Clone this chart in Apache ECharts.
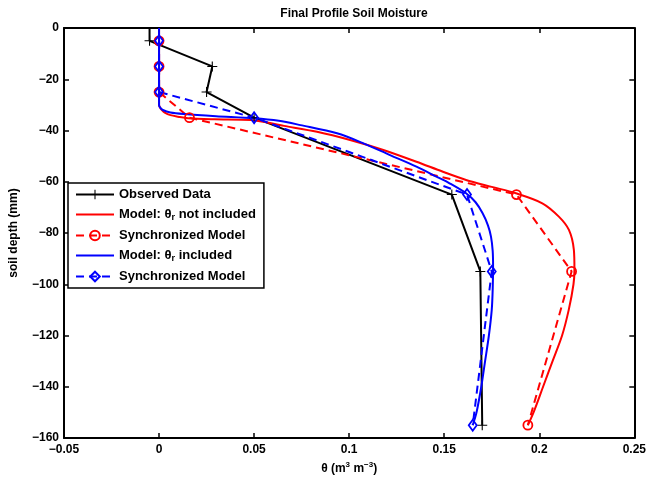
<!DOCTYPE html>
<html>
<head>
<meta charset="utf-8">
<script src="https://cdn.jsdelivr.net/npm/echarts@6/dist/echarts.min.js"></script>
<style>
  html, body { margin: 0; padding: 0; background: #fff; }
  #chart { width: 649px; height: 483px; }
</style>
</head>
<body>
<div id="chart"></div>
<script>
// Observed profile (depth in mm, moisture in m3/m3)
const obsDepth = [0, -5, -15, -25, -35, -65, -95, -155];
const obsTheta = [-0.005, -0.005, 0.028, 0.025, 0.05, 0.154, 0.169, 0.170];

// Synchronized model values at the observation depths
const syncDepth = [-5, -15, -25, -35, -65, -95, -155];
const syncThetaNoResidual = [0, 0, 0, 0.016, 0.188, 0.217, 0.194];
const syncThetaResidual = [0, 0, 0, 0.05, 0.162, 0.175, 0.165];

// Continuous model profile, residual moisture not included
const modelDepthNoResidual = [0, -10, -20, -30, -31, -32, -33, -34, -34.6, -35.2, -35.6, -35.9, -38.2, -40.5, -43.7, -47.6, -52.2, -56.1, -59.3, -62, -64.5, -68.4, -73.6, -78.8, -86.6, -94.4, -100, -110, -120, -130, -140, -150, -155];
const modelThetaNoResidual = [0, 0, 0, 0, 0.0005, 0.0015, 0.003, 0.006, 0.0100, 0.0152, 0.0291, 0.0483, 0.0657, 0.0831, 0.1005, 0.118, 0.1354, 0.1493, 0.1615, 0.175, 0.1877, 0.2016, 0.2103, 0.2156, 0.2182, 0.2185, 0.218, 0.2155, 0.212, 0.207, 0.202, 0.197, 0.194];

// Continuous model profile, residual moisture included
const modelDepthResidual = [0, -10, -20, -30, -31, -32, -33, -33.6, -34.4, -35.2, -36.2, -37.9, -41.1, -45, -49.6, -54.1, -58, -60.6, -64.5, -68, -72.3, -77, -81.4, -87, -93.2, -102, -110, -120, -130, -140, -150, -155];
const modelThetaResidual = [0, 0, 0, 0, 0.0005, 0.002, 0.006, 0.0134, 0.03, 0.05, 0.063, 0.0744, 0.0936, 0.1075, 0.1215, 0.1354, 0.1459, 0.1528, 0.1615, 0.1665, 0.1702, 0.173, 0.1746, 0.1755, 0.1757, 0.1755, 0.175, 0.1735, 0.1715, 0.1695, 0.167, 0.165];

// Axis ranges
const xMin = -0.05, xMax = 0.25, xStep = 0.05;
const yMin = -160, yMax = 0, yStep = 20;

const seriesKeys = ['obs', 'modelNoRes', 'syncNoRes', 'modelRes', 'syncRes'];
const lineOnlyKeys = ['modelNoRes', 'modelRes'];
const legendLabels = {
  obs: '{t|Observed Data}',
  modelNoRes: '{t|Model: θ}{sub|r}{t| not included}',
  syncNoRes: '{t|Synchronized Model}',
  modelRes: '{t|Model: θ}{sub|r}{t| included}',
  syncRes: '{t|Synchronized Model}'
};

const FONT = 'Liberation Sans, Arial, sans-serif';
const RED = '#ff0000';
const BLUE = '#0000ff';
const LW = 2;
const HIDDEN = 'rgba(0,0,0,0)';

function pairs(xs, ys) { return xs.map((x, i) => [x, ys[i]]); }
function minus(s) { return String(s).replace('-', '\u2212'); }

const plusPath = 'path://M-1,-0.11H1V0.11H-1Z M-0.11,-1H0.11V1H-0.11Z';

// the surface reading sits on the top frame, so it is drawn without a marker
const obsData = pairs(obsTheta, obsDepth).map(p => p[1] === 0 ? { value: p, symbol: 'none' } : p);

const chart = echarts.init(document.getElementById('chart'), null, { renderer: 'canvas' });

const axisLine = { show: true, onZero: false, lineStyle: { color: '#000', width: 2 } };
const tickStyle = { show: true, inside: true, length: 5, lineStyle: { color: '#000', width: 1.5 } };
const labelStyle = { color: '#000', fontFamily: FONT, fontWeight: 'bold', fontSize: 12 };

chart.setOption({
  animation: false,
  backgroundColor: '#fff',
  title: {
    text: 'Final Profile Soil Moisture',
    left: 349,
    top: 3,
    textAlign: 'center',
    textStyle: { color: '#000', fontFamily: FONT, fontWeight: 'bold', fontSize: 12 }
  },
  grid: { left: 62, right: 13, top: 28, bottom: 45, containLabel: false },
  legend: {
    data: seriesKeys.map(k => lineOnlyKeys.includes(k)
      ? { name: k, itemStyle: { color: HIDDEN, borderColor: HIDDEN, borderWidth: 0 } }
      : { name: k }),
    orient: 'vertical',
    left: 68,
    top: 183,
    padding: [5, 8, 5, 7],
    itemGap: 7,
    itemWidth: 38,
    itemHeight: 12,
    backgroundColor: '#fff',
    borderColor: '#000',
    borderWidth: 1.5,
    borderRadius: 0,
    z: 10,
    formatter: name => legendLabels[name],
    textStyle: {
      color: '#000',
      fontFamily: FONT,
      fontWeight: 'bold',
      fontSize: 13,
      rich: {
        t: { color: '#000', fontFamily: FONT, fontWeight: 'bold', fontSize: 13 },
        sub: { color: '#000', fontFamily: FONT, fontWeight: 'bold', fontSize: 9, padding: [6, 0, 0, 0] }
      }
    }
  },
  xAxis: [
    {
      type: 'value', position: 'bottom', min: xMin, max: xMax, interval: xStep,
      axisLine, axisTick: tickStyle, splitLine: { show: false },
      axisLabel: Object.assign({ margin: 6, formatter: v => minus(Math.round(v * 100) / 100) }, labelStyle),
      name: 'θ (m{sup|3} m{sup|−3})',
      nameLocation: 'middle',
      nameGap: 21,
      nameTextStyle: {
        color: '#000', fontFamily: FONT, fontSize: 12, fontWeight: 'bold', verticalAlign: 'top',
        rich: {
          sup: { color: '#000', fontFamily: FONT, fontSize: 8, fontWeight: 'bold', padding: [0, 0, 8, 0] }
        }
      }
    },
    {
      type: 'value', position: 'top', min: xMin, max: xMax, interval: xStep,
      axisLine, axisTick: tickStyle, axisLabel: { show: false }, splitLine: { show: false }
    }
  ],
  yAxis: [
    {
      type: 'value', position: 'left', min: yMin, max: yMax, interval: yStep,
      axisLine, axisTick: tickStyle, splitLine: { show: false },
      axisLabel: Object.assign({ margin: 5, formatter: v => minus(v) }, labelStyle),
      name: 'soil depth (mm)',
      nameLocation: 'middle',
      nameGap: 44,
      nameTextStyle: { color: '#000', fontFamily: FONT, fontSize: 12, fontWeight: 'bold' }
    },
    {
      type: 'value', position: 'right', min: yMin, max: yMax, interval: yStep,
      axisLine, axisTick: tickStyle, axisLabel: { show: false }, splitLine: { show: false }
    }
  ],
  series: [
    {
      name: 'obs', type: 'line', data: obsData,
      symbol: plusPath, symbolSize: 10, showSymbol: true,
      lineStyle: { color: '#000', width: LW },
      itemStyle: { color: '#000' }
    },
    {
      name: 'modelNoRes', type: 'line', data: pairs(modelThetaNoResidual, modelDepthNoResidual),
      symbol: 'none', smooth: 0.3,
      lineStyle: { color: RED, width: LW },
      itemStyle: { color: RED }
    },
    {
      name: 'syncNoRes', type: 'line', data: pairs(syncThetaNoResidual, syncDepth),
      symbol: 'circle', symbolSize: 9,
      lineStyle: { color: RED, width: LW, type: [8, 5] },
      itemStyle: { color: HIDDEN, borderColor: RED, borderWidth: 1.8 }
    },
    {
      name: 'modelRes', type: 'line', data: pairs(modelThetaResidual, modelDepthResidual),
      symbol: 'none', smooth: 0.3,
      lineStyle: { color: BLUE, width: LW },
      itemStyle: { color: BLUE }
    },
    {
      name: 'syncRes', type: 'line', data: pairs(syncThetaResidual, syncDepth),
      symbol: 'diamond', symbolSize: [8, 11],
      lineStyle: { color: BLUE, width: LW, type: [8, 5] },
      itemStyle: { color: HIDDEN, borderColor: BLUE, borderWidth: 1.8 }
    }
  ]
});
</script>
</body>
</html>
